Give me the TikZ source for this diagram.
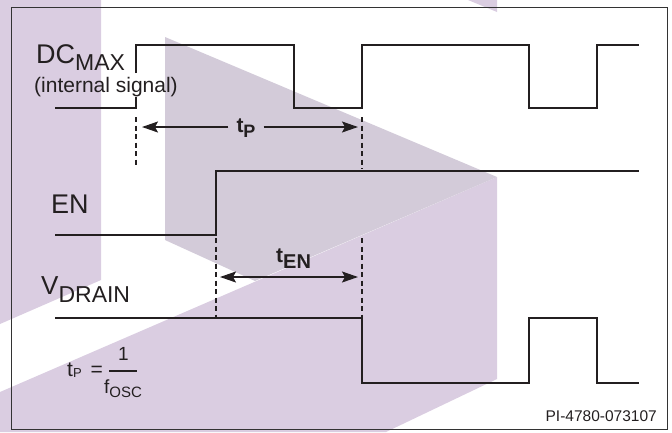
\documentclass[tikz,border=0pt]{standalone}
\usepackage{fontspec}
\setmainfont{Liberation Sans}
\usetikzlibrary{arrows.meta}
\definecolor{ink}{RGB}{35,31,32}
\definecolor{lilac}{RGB}{218,205,225}
\definecolor{greylilac}{RGB}{211,203,217}
\newcommand\lowsub[3]{\raisebox{-#1}{\fontsize{#2}{#2}\selectfont #3}}

\begin{document}
\begin{tikzpicture}[x=1pt,y=-1pt,
  >={Stealth[length=16pt,width=11pt,inset=3pt]},
  wave/.style={draw=ink,line width=2.7pt},
  guide/.style={draw=ink,line width=1.6pt,dash pattern=on 5pt off 3.5pt},
  span/.style={draw=ink,line width=1.4pt},
  siglabel/.style={anchor=base west,inner sep=0pt,text=ink,font=\fontsize{27}{27}\selectfont},
  tlabel/.style={inner ysep=0pt,text=ink,font=\bfseries\fontsize{21}{21}\selectfont},
  eqtext/.style={anchor=base west,inner sep=0pt,text=ink,font=\fontsize{19}{19}\selectfont}]
    \useasboundingbox (0,0) rectangle (672,432);
    % Watermark
    \fill[lilac] (0,0) -- (101,0) -- (101,280) -- (0,324) -- cycle;
    \fill[lilac] (0,392) -- (497,177) -- (497,379) -- (386,432) -- (0,432) -- cycle;
    \fill[greylilac] (165,37) -- (497,177) -- (255,281) -- (165,240) -- cycle;
    \fill[lilac] (468,0) -- (497,0) -- (497,12) -- cycle;
    \draw[black!80,line width=1pt] (11,7) rectangle (667,429);
    % Signals
    \draw[wave] (55,108) -- (136,108) -- (136,97) (136,73) -- (136,45) -- (294,45) -- (294,108) -- (362,108)
      -- (362,45) -- (529,45) -- (529,108) -- (597,108) -- (597,45) -- (639,45);
    \draw[wave] (55,235) -- (216,235) -- (216,171) -- (639,171);
    \draw[wave] (55,318) -- (362,318) -- (362,383) -- (529,383) -- (529,318) -- (597,318)
      -- (597,383) -- (639,383);
    \draw[guide] (136,117) -- (136,165);
    \draw[guide] (362,117) -- (362,169);
    \draw[guide] (362,238) -- (362,318);
    \draw[guide] (216,238) -- (216,318);
    % Labels
    \node[siglabel] (dcmax) at (36,63) {DC\lowsub{7pt}{23}{MAX}};
    \node[siglabel,font=\fontsize{21}{21}\selectfont] (dcnote) at (34,92) {(internal signal)};
    \node[siglabel] (en) at (51,213) {EN};
    \node[siglabel,font=\fontsize{26}{26}\selectfont] (vdrain) at (41,294) {V\lowsub{8pt}{23}{DRAIN}};
    % Timing spans
    \coordinate (gA) at (136,127);
    \coordinate (gB) at (362,127);
    \coordinate (gC) at (216,277);
    \coordinate (gD) at (362,277);
    \node[tlabel,anchor=base,inner xsep=8pt] (tp) at (246,132) {t\lowsub{5pt}{18}{P}};
    \draw[span,->,shorten >=6pt] (tp.west |- gA) -- (gA);
    \draw[span,->,shorten >=4pt] (tp.east |- gB) -- (gB);
    \draw[span,<->,shorten >=4pt,shorten <=4pt] (gC) -- (gD);
    \node[tlabel,anchor=base west,inner sep=0pt] (ten) at (276,262) {t\lowsub{6pt}{20}{EN}};
    % Period formula
    \node[eqtext,font=\fontsize{21}{21}\selectfont] (tpeq) at (67,376) {t\lowsub{1pt}{13}{P}\hspace{9pt}=};
    \node[eqtext,anchor=base] (one) at (123.5,360) {1};
    \node[eqtext] (fosc) at (104,393) {f\lowsub{4pt}{15}{OSC}};
    \draw[ink,line width=1.3pt] (109,371) -- (137,371);
    \node[anchor=base east,inner sep=0pt,text=ink,font=\fontsize{15.5}{15.5}\selectfont] (docid) at (657,421) {PI-4780-073107};
\end{tikzpicture}
\end{document}
